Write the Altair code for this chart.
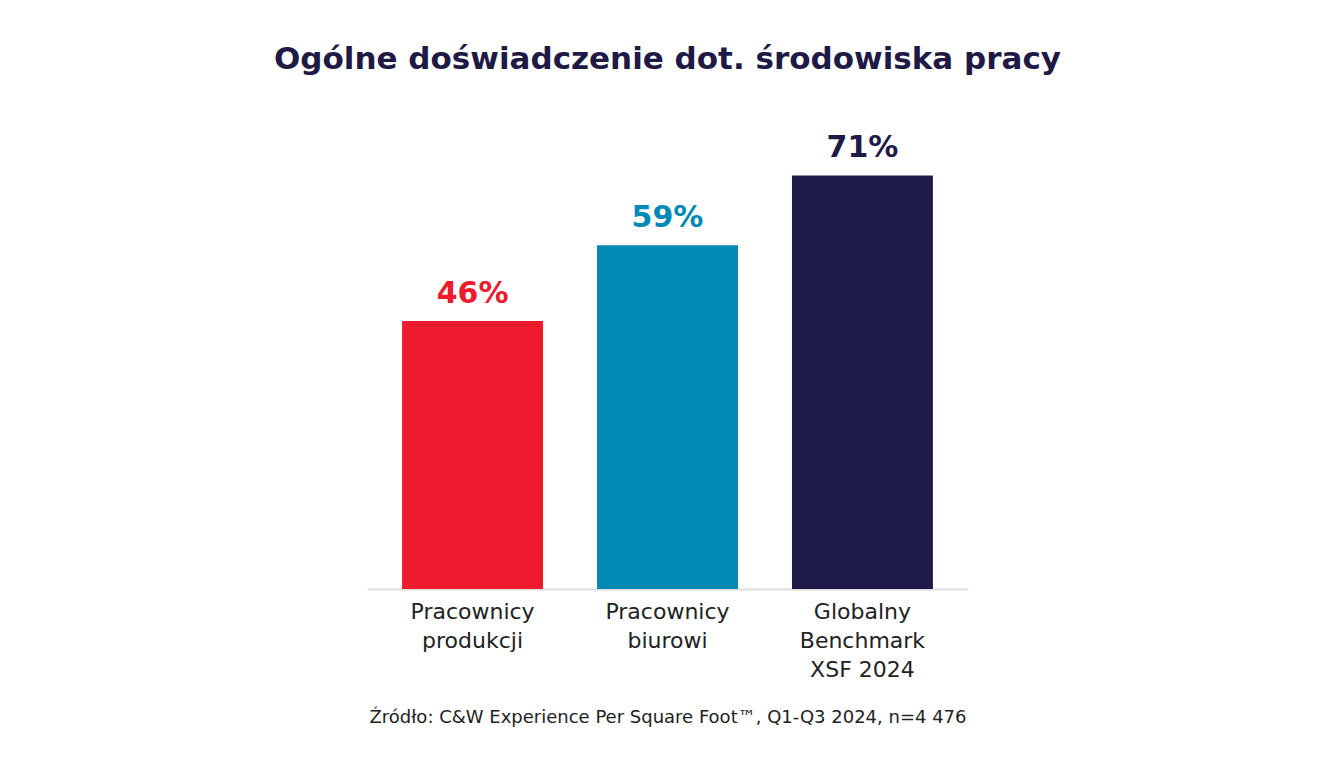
import altair as alt
import pandas as pd

categories = ["Pracownicy|produkcji", "Pracownicy|biurowi", "Globalny|Benchmark|XSF 2024"]
values = [46, 59, 71]
colors = ["#EE1A2D", "#0089B4", "#1F1B48"]
title_text = "Ogólne doświadczenie dot. środowiska pracy"
source_text = "Źródło: C&W Experience Per Square Foot™, Q1-Q3 2024, n=4 476"

FONT = "DejaVu Sans"

df = pd.DataFrame({"cat": categories, "value": values, "color": colors})

base = alt.Chart(df).encode(
    x=alt.X(
        "cat:N",
        sort=categories,
        scale=alt.Scale(paddingInner=0.277, paddingOuter=0.18),
        axis=alt.Axis(
            title=source_text,
            titleFont=FONT,
            titleFontSize=18,
            titleFontWeight="normal",
            titleColor="#222222",
            titlePadding=28,
            labelExpr="split(datum.label, '|')",
            labelAngle=0,
            labelFont=FONT,
            labelFontSize=22,
            labelColor="#222222",
            labelLineHeight=29,
            labelPadding=12,
            labelBaseline="top",
            ticks=False,
            domainColor="#DDDDDD",
            domainWidth=2,
            grid=False,
        ),
    ),
    y=alt.Y("value:Q", scale=alt.Scale(domain=[0, 80]), axis=None),
)

bars = base.mark_bar().encode(color=alt.Color("color:N", scale=None))
labels = base.transform_calculate(lbl="datum.value + '%'").mark_text(
    baseline="bottom", dy=-12, font=FONT, fontSize=30, fontWeight="bold"
).encode(text="lbl:N", color=alt.Color("color:N", scale=None))

chart = (
    alt.layer(bars, labels)
    .properties(
        width=601,
        height=466,
        title=alt.TitleParams(
            title_text,
            font=FONT,
            fontSize=31,
            fontWeight="bold",
            color="#1E1A45",
            anchor="middle",
            offset=47,
        ),
        autosize=alt.AutoSizeParams(type="none"),
        padding={"left": 359, "top": 115, "right": 368, "bottom": 163},
        background="white",
    )
    .configure_view(stroke=None)
)

chart.save("out.html", embed_options={"renderer": "svg", "actions": False})
